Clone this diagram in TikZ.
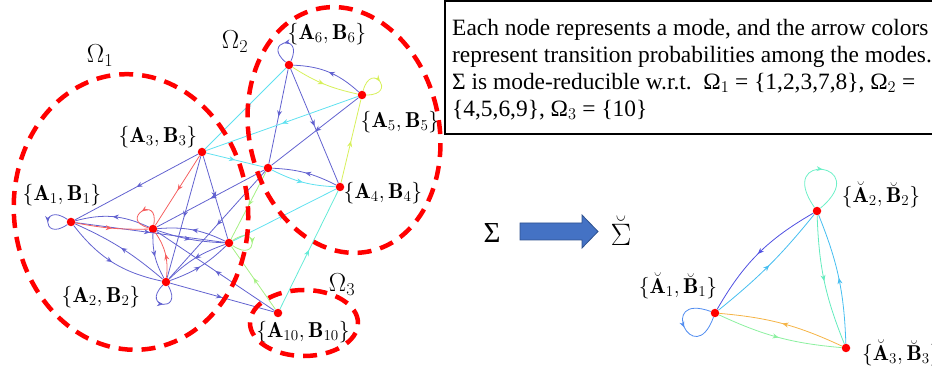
\RequirePackage{fix-cm}
\documentclass[tikz,border=0pt]{standalone}
\usepackage{amsmath,amssymb}
\usepackage{fontspec}
\newfontfamily\tnr{Liberation Serif}
\usepackage{tikz}
\usetikzlibrary{arrows.meta, decorations.markings}

\definecolor{edgeblue}{RGB}{98,98,208}
\definecolor{edgered}{RGB}{245,95,95}
\definecolor{edgecyan}{RGB}{95,225,240}
\definecolor{edgeaqua}{RGB}{100,235,215}
\definecolor{edgeyellow}{RGB}{215,240,90}
\definecolor{edgegreen}{RGB}{165,240,130}
\definecolor{redblue}{RGB}{80,80,225}
\definecolor{redsky}{RGB}{70,190,240}
\definecolor{redmint}{RGB}{100,235,190}
\definecolor{redorange}{RGB}{245,180,70}
\definecolor{redlime}{RGB}{140,240,160}
\definecolor{redloopa}{RGB}{80,140,240}
\definecolor{redloopb}{RGB}{110,240,200}
\definecolor{arrowfill}{RGB}{68,114,196}
\definecolor{arrowline}{RGB}{47,82,143}

\begin{document}
\begin{tikzpicture}[x=1pt, y=1pt,
  mode/.style={circle, fill=red, inner sep=0pt, minimum size=8.5pt},
  lab/.style={font=\fontsize{21.6}{24}\selectfont, inner sep=0pt},
  rlab/.style={font=\fontsize{21.5}{24}\selectfont, inner sep=0pt},
  omlab/.style={font=\fontsize{26}{28}\selectfont, inner sep=0pt, anchor=base},
  mid/.style={postaction={decorate}, decoration={markings,
    mark=at position 0.5 with {\arrow{Stealth[length=6pt,width=5pt]}}}},
  ln/.style={line width=0.8pt, mid},
  bl/.style={ln, draw=edgeblue},
  rd/.style={ln, draw=edgered},
  cy/.style={ln, draw=edgecyan},
  aq/.style={ln, draw=edgeaqua},
  ye/.style={ln, draw=edgeyellow},
  gr/.style={ln, draw=edgegreen},
  omega/.style={draw=red, line width=4.5pt, dash pattern=on 14pt off 9pt},
  every loop/.style={min distance=32pt, looseness=7},
]
  \useasboundingbox (0,0) rectangle (932,-371);

  % modes of Sigma
  \node[mode] (n1)  at (71,-222)  {};
  \node[mode] (n2)  at (166,-282) {};
  \node[mode] (n3)  at (202,-152) {};
  \node[mode] (n4)  at (340,-187) {};
  \node[mode] (n5)  at (362,-95)  {};
  \node[mode] (n6)  at (289,-65)  {};
  \node[mode] (n7)  at (153,-229) {};
  \node[mode] (n8)  at (229,-243) {};
  \node[mode] (n9)  at (268,-168) {};
  \node[mode] (n10) at (278,-313) {};

  \node[lab] (l1)  at (62,-195)  {$\{\mathbf{A}_1,\mathbf{B}_1\}$};
  \node[lab] (l2)  at (101,-297) {$\{\mathbf{A}_2,\mathbf{B}_2\}$};
  \node[lab] (l3)  at (158,-137) {$\{\mathbf{A}_3,\mathbf{B}_3\}$};
  \node[lab] (l4)  at (383,-193) {$\{\mathbf{A}_4,\mathbf{B}_4\}$};
  \node[lab] (l5)  at (400,-122) {$\{\mathbf{A}_5,\mathbf{B}_5\}$};
  \node[lab] (l6)  at (327,-34)  {$\{\mathbf{A}_6,\mathbf{B}_6\}$};
  \node[lab] (l10) at (303,-332) {$\{\mathbf{A}_{10},\mathbf{B}_{10}\}$};

  % blue transitions
  \draw[bl] (n3) -- (n1);
  \draw[bl] (n3) -- (n2);
  \draw[bl] (n3) -- (n8);
  \draw[bl] (n7) to[bend right=20] (n1);
  \draw[bl] (n1) to[bend right=20] (n2);
  \draw[bl] (n2) to[bend right=8] (n1);
  \draw[bl] (n7) to[bend right=15] (n2);
  \draw[bl] (n8) to[bend right=15] (n7);
  \draw[bl] (n7) to[bend right=8] (n8);
  \draw[bl] (n1) -- (n8);
  \draw[bl] (n8) to[bend right=12] (n2);
  \draw[bl] (n2) to[bend right=12] (n8);
  \draw[bl] (n9) -- (n7);
  \draw[bl] (n9) -- (n2);
  \draw[bl] (n10) -- (n7);
  \draw[bl] (n2) -- (n10);
  \draw[bl] (n6) -- (n9);
  \draw[bl] (n6) -- (n4);
  \draw[bl] (n5) -- (n9);
  \draw[bl] (n5) to[bend right=20] (n6);
  \draw[bl] (n4) to[bend right=12] (n9);
  \draw[bl] (n1) to[out=145, in=215, loop] (n1);
  \draw[bl] (n2) to[out=225, in=300, loop] (n2);
  \draw[bl] (n6) to[out=65, in=140, loop] (n6);

  % red transitions
  \draw[rd] (n3) -- (n7);
  \draw[rd] (n1) to[bend right=6] (n7);
  \draw[rd] (n2) to[bend right=20] (n7);
  \draw[rd] (n7) to[out=80, in=165, loop] (n7);

  % light transitions
  \draw[cy] (n6) -- (n3);
  \draw[cy] (n5) -- (n3);
  \draw[cy] (n3) -- (n9);
  \draw[cy] (n9) to[bend right=12] (n4);
  \draw[cy] (n8) -- (n4);
  \draw[aq] (n10) -- (n4);
  \draw[ye] (n6) to[bend right=10] (n5);
  \draw[ye] (n4) -- (n5);
  \draw[ye] (n5) to[out=75, in=0, loop] (n5);
  \draw[gr] (n9) -- (n8);
  \draw[gr] (n10) -- (n8);
  \draw[gr] (n8) to[out=35, in=-35, loop] (n8);

  % mode sets
  \draw[omega, rotate around={6:(131,-212)}] (131,-212) ellipse[x radius=117, y radius=138];
  \draw[omega, rotate around={12:(344,-130)}] (344,-130) ellipse[x radius=95, y radius=124];
  \draw[omega] (304,-323) ellipse[x radius=54, y radius=33];
  \node[omlab] (om1) at (100,-63)  {$\Omega_1$};
  \node[omlab] (om2) at (235,-49)  {$\Omega_2$};
  \node[omlab] (om3) at (342,-292) {$\Omega_3$};

  % reduction
  \node[font=\tnr\fontsize{29}{30}\selectfont, inner sep=0pt] (sig) at (492,-233) {Σ};
  \node[font=\fontsize{31}{33}\selectfont, inner sep=0pt] (sigr) at (621,-231) {$\breve{\Sigma}$};
  \draw[fill=arrowfill, draw=arrowline, line width=0.8pt]
    (520,-223) -- (582,-223) -- (582,-215) -- (598,-231.5) -- (582,-248)
    -- (582,-240) -- (520,-240) -- cycle;

  % reduced modes
  \node[mode] (m1) at (715,-313) {};
  \node[mode] (m2) at (817,-211) {};
  \node[mode] (m3) at (846,-348) {};
  \node[rlab] (r1) at (678,-286) {$\{\breve{\mathbf{A}}_1,\breve{\mathbf{B}}_1\}$};
  \node[rlab] (r2) at (881,-195) {$\{\breve{\mathbf{A}}_2,\breve{\mathbf{B}}_2\}$};
  \node[rlab, anchor=west] (r3) at (862,-353) {$\{\breve{\mathbf{A}}_3,\breve{\mathbf{B}}_3\}$};

  \draw[ln, draw=redblue] (m2) to[bend right=15] (m1);
  \draw[ln, draw=redsky] (m1) to[bend right=6] (m2);
  \draw[ln, draw=redmint] (m2) to[bend right=10] (m3);
  \draw[ln, draw=redsky] (m3) to[bend right=10] (m2);
  \draw[ln, draw=redorange] (m3) to[bend right=10] (m1);
  \draw[ln, draw=redlime] (m1) to[bend right=10] (m3);
  \draw[ln, draw=redloopa] (m1) to[out=160, in=250, loop, min distance=58pt] (m1);
  \draw[ln, draw=redloopb] (m2) to[out=125, in=40, loop, min distance=70pt] (m2);

  % note
  \draw[line width=1.6pt] (445,-1) rectangle (945,-134);
  \node[font=\tnr\fontsize{23.4}{27}\selectfont, anchor=north west, inner sep=0pt, align=left] (note) at (452,-19)
    {Each node represents a mode, and the arrow colors\\
     represent transition probabilities among the modes.\\
     Σ is mode-reducible w.r.t.\ \ Ω$_1$ = \{1,2,3,7,8\}, Ω$_2$ =\\
     \{4,5,6,9\}, Ω$_3$ = \{10\}};
\end{tikzpicture}
\end{document}
